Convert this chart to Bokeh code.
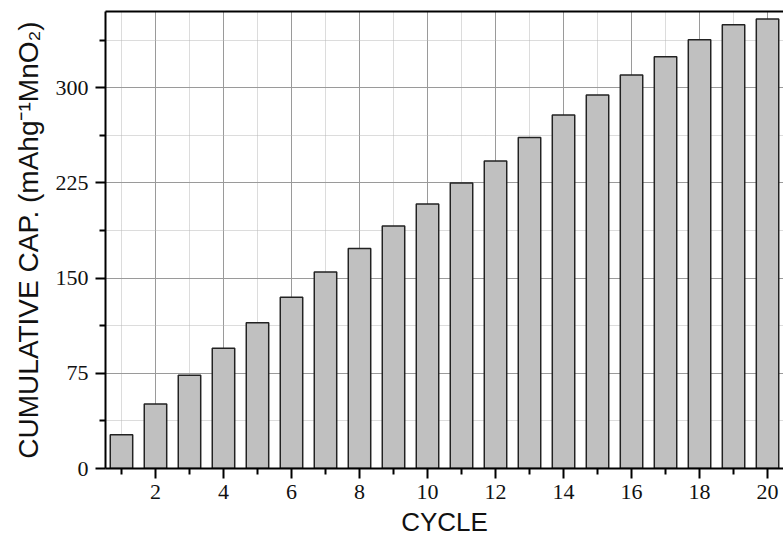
from bokeh.plotting import figure
from bokeh.models import LinearAxis, FixedTicker, Range1d, ColumnDataSource
from bokeh.embed import file_html
from bokeh.resources import INLINE

cycles = list(range(1, 21))
cum_cap = [26.6, 50.9, 73.4, 94.7, 114.8, 134.9, 154.8, 173.3, 191.1, 208.3,
           225.0, 242.2, 260.8, 278.4, 294.2, 310.0, 324.4, 337.8, 349.6, 354.0]
y_ticks = [0, 75, 150, 225, 300]
y_minor = [37.5, 112.5, 187.5, 262.5, 337.5]
x_ticks = [2, 4, 6, 8, 10, 12, 14, 16, 18, 20]
x_minor = [1, 3, 5, 7, 9, 11, 13, 15, 17, 19]

src = ColumnDataSource(dict(x=cycles, top=cum_cap))

p = figure(width=783, height=539, output_backend="svg", toolbar_location=None,
           x_range=Range1d(0.53, 20.47), y_range=Range1d(0, 360),
           min_border_left=105, min_border_top=11, min_border_bottom=69,
           min_border_right=0, outline_line_color=None)

p.vbar(x="x", top="top", width=0.66, source=src, fill_color="#c0c0c0",
       line_color="#222222", line_width=1.5)

# grids
p.xgrid.ticker = FixedTicker(ticks=x_ticks, minor_ticks=x_minor)
p.ygrid.ticker = FixedTicker(ticks=y_ticks, minor_ticks=y_minor)
for g in (p.xgrid, p.ygrid):
    g.grid_line_color = "#9a9a9a"
    g.grid_line_width = 1
    g.minor_grid_line_color = "#b8b8b8"
    g.minor_grid_line_dash = "1 1"
    g.minor_grid_line_width = 1
    g.level = "underlay"

for ax in (p.xaxis[0], p.yaxis[0]):
    ax.axis_line_width = 2
    ax.axis_line_color = "black"
    ax.major_tick_line_color = "black"
    ax.major_tick_line_width = 2
    ax.major_tick_in = 0
    ax.major_tick_out = 10
    ax.minor_tick_line_color = "black"
    ax.minor_tick_line_width = 2
    ax.minor_tick_in = 0
    ax.minor_tick_out = 6
    ax.major_label_text_font = "Liberation Serif"
    ax.major_label_text_font_size = "22px"
    ax.major_label_text_color = "#111111"
    ax.axis_label_text_font = "Liberation Sans"
    ax.axis_label_text_font_style = "normal"
    ax.axis_label_text_color = "#111111"

p.xaxis.axis_label_text_font_size = "26px"
p.yaxis.axis_label_text_font_size = "28px"
p.xaxis.ticker = FixedTicker(ticks=x_ticks, minor_ticks=x_minor)
p.yaxis.ticker = FixedTicker(ticks=y_ticks, minor_ticks=y_minor)
p.xaxis.axis_label = "CYCLE"
p.yaxis.axis_label = "CUMULATIVE CAP. (mAhg\u207b\u00b9MnO\u2082)"
p.xaxis.major_label_standoff = 6
p.yaxis.major_label_standoff = 7
p.xaxis.axis_label_standoff = 5
p.yaxis.axis_label_standoff = 9

top_axis = LinearAxis(axis_line_width=2, axis_line_color="black",
                      ticker=FixedTicker(ticks=[], minor_ticks=[]),
                      major_tick_line_color=None, minor_tick_line_color=None,
                      major_label_standoff=0, axis_label_standoff=0)
p.add_layout(top_axis, "above")

open("out.html", "w").write(file_html(p, INLINE))
